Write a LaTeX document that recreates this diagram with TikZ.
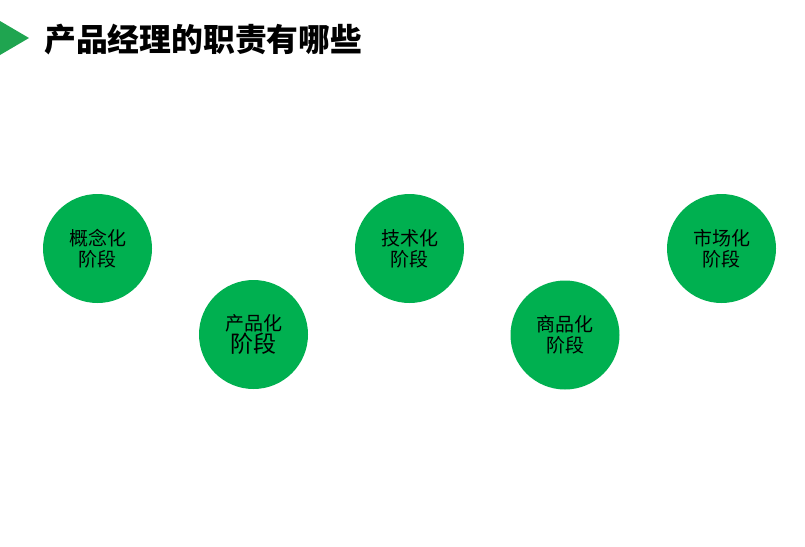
\documentclass[tikz,border=0pt]{standalone}
\usepackage{fontspec}
\newfontfamily\cjk{Noto Sans CJK SC}
\definecolor{pgreen}{HTML}{00B050}
\definecolor{tgreen}{HTML}{1FA550}
\begin{document}
\begin{tikzpicture}[x=1pt,y=-1pt,
  stage/.style={circle,fill=pgreen,minimum size=109pt,inner sep=0pt,align=center,
    font=\cjk\fontsize{19}{21}\selectfont,text=black}]
\useasboundingbox[fill=white] (0,0) rectangle (805,546);
\fill[tgreen] (0,21) -- (29,38) -- (0,55) -- cycle;
\node[anchor=west,inner sep=0pt,font=\cjk\bfseries\fontsize{31.8}{33}\selectfont] (title) at (44,40) {产品经理的职责有哪些};
\node[stage] (s1) at (97.5,248.5) {概念化\\阶段};
\node[stage] (s2) at (253.5,334.5) {产品化\\{\fontsize{23}{24}\selectfont 阶段}};
\node[stage] (s3) at (409.5,248.5) {技术化\\阶段};
\node[stage] (s4) at (565,335) {商品化\\阶段};
\node[stage] (s5) at (721.5,248.5) {市场化\\阶段};
\end{tikzpicture}
\end{document}
